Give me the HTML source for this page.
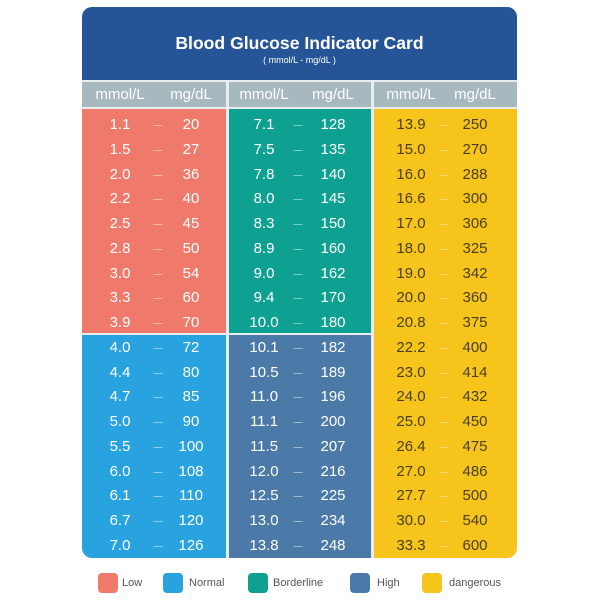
<!DOCTYPE html>
<html><head><style>
body{margin:0;width:600px;height:600px;background:#fff;font-family:"Liberation Sans",sans-serif;position:relative;overflow:hidden}
.card{position:absolute;left:82px;top:7px;width:435px;height:551px;border-radius:10px;overflow:hidden;background:#e8eef0}
.hdr{position:absolute;left:0;top:0;width:435px;height:73px;background:#255597;color:#fff;text-align:center}
.hdr h1{margin:0;position:absolute;top:26px;width:100%;font-size:17.6px;font-weight:bold}
.hdr p{margin:0;position:absolute;top:48px;width:100%;font-size:9px}
.box{position:absolute}
.t{position:absolute;font-size:15px;transform:translateX(-50%);white-space:nowrap}
.dash{position:absolute;width:9px;height:1px;transform:translateX(-50%)}
.lg{position:absolute;top:573px;width:20px;height:20px;border-radius:4px}
.ll{position:absolute;top:577px;font-size:11px;color:#555}
</style></head><body>
<div class="card">
<div class="hdr"><h1>Blood Glucose Indicator Card</h1><p>( mmol/L - mg/dL )</p></div>
<div class="box" style="left:0;top:75px;width:144px;height:25px;background:#a7b9bf"></div>
<div class="box" style="left:147px;top:75px;width:142px;height:25px;background:#a7b9bf"></div>
<div class="box" style="left:292px;top:75px;width:143px;height:25px;background:#a7b9bf"></div>
<div class="box" style="left:0;top:102px;width:144px;height:224px;background:#ef7a6c"></div>
<div class="box" style="left:0;top:328px;width:144px;height:223px;background:#29a3e0"></div>
<div class="box" style="left:147px;top:102px;width:142px;height:224px;background:#0ea191"></div>
<div class="box" style="left:147px;top:328px;width:142px;height:223px;background:#4b7aa8"></div>
<div class="box" style="left:292px;top:102px;width:143px;height:449px;background:#f6c41b"></div>
</div>
<div id="txt"></div>
<div class="lg" style="left:98px;background:#ef7a6c"></div><div class="ll" style="left:122px">Low</div>
<div class="lg" style="left:163px;background:#29a3e0"></div><div class="ll" style="left:189px">Normal</div>
<div class="lg" style="left:248px;background:#0ea191"></div><div class="ll" style="left:273px">Borderline</div>
<div class="lg" style="left:350px;background:#4b7aa8"></div><div class="ll" style="left:377px">High</div>
<div class="lg" style="left:422px;background:#f6c41b"></div><div class="ll" style="left:449px">dangerous</div>
<script>
var h='';
function t(x,y,s,c){h+='<div class="t" style="left:'+x+'px;top:'+y+'px;color:'+c+'">'+s+'</div>';}
[[120,191],[264,333],[411,475]].forEach(function(c){t(c[0],86,'mmol/L','#fff');t(c[1],86,'mg/dL','#fff');});
var d=[
[["1.1",20],["1.5",27],["2.0",36],["2.2",40],["2.5",45],["2.8",50],["3.0",54],["3.3",60],["3.9",70],["4.0",72],["4.4",80],["4.7",85],["5.0",90],["5.5",100],["6.0",108],["6.1",110],["6.7",120],["7.0",126]],
[["7.1",128],["7.5",135],["7.8",140],["8.0",145],["8.3",150],["8.9",160],["9.0",162],["9.4",170],["10.0",180],["10.1",182],["10.5",189],["11.0",196],["11.1",200],["11.5",207],["12.0",216],["12.5",225],["13.0",234],["13.8",248]],
[["13.9",250],["15.0",270],["16.0",288],["16.6",300],["17.0",306],["18.0",325],["19.0",342],["20.0",360],["20.8",375],["22.2",400],["23.0",414],["24.0",432],["25.0",450],["26.4",475],["27.0",486],["27.7",500],["30.0",540],["33.3",600]]];
var X=[[120,158,191],[264,298,333],[411,444,475]];
d.forEach(function(col,ci){col.forEach(function(r,i){var y=116+i*24.75;
var c=ci==2?'#4a4020':'#fff',dc=ci==2?'#fadb6a':'rgba(255,255,255,0.45)';
t(X[ci][0],y,r[0],c);t(X[ci][2],y,r[1],c);
h+='<div class="dash" style="left:'+X[ci][1]+'px;top:'+(y+9)+'px;background:'+dc+'"></div>';});});
document.getElementById('txt').innerHTML=h;
</script>
</body></html>
